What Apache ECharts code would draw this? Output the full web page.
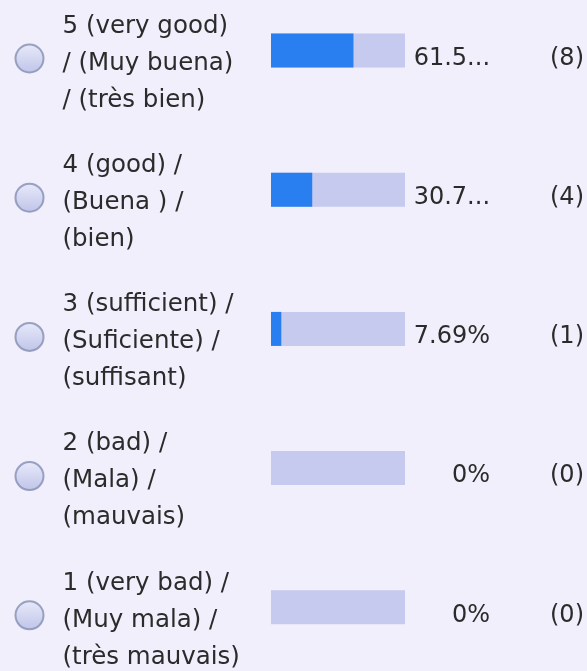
<!DOCTYPE html>
<html>
<head>
<meta charset="utf-8">
<script src="https://cdn.jsdelivr.net/npm/echarts@6/dist/echarts.min.js"></script>
<style>
html,body{margin:0;padding:0;background:#f0effb;}
#c{width:587px;height:671px;}
</style>
</head>
<body>
<div id="c"></div>
<script>
var categories = [
  "5 (very good)\n/ (Muy buena)\n/ (très bien)",
  "4 (good) /\n(Buena ) /\n(bien)",
  "3 (sufficient) /\n(Suficiente) /\n(suffisant)",
  "2 (bad) /\n(Mala) /\n(mauvais)",
  "1 (very bad) /\n(Muy mala) /\n(très mauvais)"
];
var percents = [61.54, 30.77, 7.69, 0, 0];
var percentLabels = ["61.5...", "30.7...", "7.69%", "0%", "0%"];
var counts = [8, 4, 1, 0, 0];

var FONT = "DejaVu Sans";
var TEXT = '#2b2b2b';
var chart = echarts.init(document.getElementById('c'));
chart.setOption({
  backgroundColor: '#f0effb',
  animation: false,
  grid: [
    {left: 271, width: 136.5, top: 50.5, height: 556.8},
    {left: 0, width: 59, top: 50.5, height: 556.8}
  ],
  xAxis: [
    {gridIndex: 0, type: 'value', min: 0, max: 100, show: false},
    {gridIndex: 1, type: 'value', min: 0, max: 2, show: false}
  ],
  yAxis: [
    {
      gridIndex: 0, type: 'category', data: categories, inverse: true, boundaryGap: false,
      axisLine: {show: false}, axisTick: {show: false}, splitLine: {show: false},
      axisLabel: {show: false}
    },
    {
      gridIndex: 0, type: 'category', data: percentLabels, inverse: true, boundaryGap: false,
      position: 'right', offset: 0,
      axisLine: {show: false}, axisTick: {show: false}, splitLine: {show: false},
      axisLabel: {
        align: 'right', margin: 85, verticalAlign: 'top', lineHeight: 16,
        color: TEXT, fontFamily: FONT, fontSize: 24
      }
    },
    {
      gridIndex: 0, type: 'category', data: counts.map(String), inverse: true, boundaryGap: false,
      position: 'right', offset: 0,
      axisLine: {show: false}, axisTick: {show: false}, splitLine: {show: false},
      axisLabel: {
        align: 'left', margin: 145, verticalAlign: 'top', lineHeight: 16,
        formatter: function (v) { return '(' + v + ')'; },
        color: TEXT, fontFamily: FONT, fontSize: 24
      }
    },
    {
      gridIndex: 1, type: 'category', data: categories, inverse: true, boundaryGap: false, show: false
    }
  ],
  series: [
    {
      type: 'bar', xAxisIndex: 0, yAxisIndex: 0,
      data: percents, barWidth: 34,
      itemStyle: {color: '#2a7ff0'},
      showBackground: true,
      backgroundStyle: {color: '#c5caee'}
    },
    {
      type: 'scatter', xAxisIndex: 1, yAxisIndex: 3,
      data: percents.map(function () { return 1; }),
      symbol: 'circle', symbolSize: 28, symbolOffset: [0, 8],
      itemStyle: {
        color: new echarts.graphic.LinearGradient(0, 0, 0, 1, [
          {offset: 0, color: '#e6e9fa'},
          {offset: 1, color: '#b3b9e3'}
        ]),
        borderColor: '#858db3', borderWidth: 2
      },
      label: {
        show: true, position: 'right', distance: 18, offset: [0, 5],
        align: 'left', verticalAlign: 'middle', opacity: 1,
        color: TEXT, fontFamily: FONT, fontSize: 24.5, lineHeight: 37,
        formatter: function (p) { return categories[p.dataIndex]; }
      },
      emphasis: {disabled: true},
      silent: true
    }
  ]
});
</script>
</body>
</html>
